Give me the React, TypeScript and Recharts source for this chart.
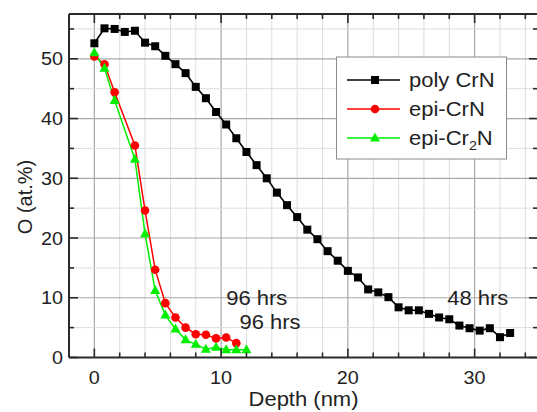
import React from 'react';
import { ComposedChart, Line, XAxis, YAxis, ReferenceDot } from 'recharts';

const polyDepth = [0, 0.8, 1.6, 2.4, 3.2, 4.0, 4.8, 5.6, 6.4, 7.2, 8.0, 8.8, 9.6, 10.4, 11.2, 12.0, 12.8, 13.6, 14.4, 15.2, 16.0, 16.8, 17.6, 18.4, 19.2, 20.0, 20.8, 21.6, 22.4, 23.2, 24.0, 24.8, 25.6, 26.4, 27.2, 28.0, 28.8, 29.6, 30.4, 31.2, 32.0, 32.8];
const polyO = [52.6, 55.1, 55.0, 54.5, 54.7, 52.7, 52.1, 50.5, 49.1, 47.6, 45.3, 43.4, 41.1, 39.0, 36.7, 34.4, 32.2, 30.0, 27.6, 25.5, 23.5, 21.4, 19.8, 17.8, 16.2, 14.5, 13.4, 11.4, 10.9, 10.1, 8.4, 7.9, 7.9, 7.3, 6.7, 6.4, 5.35, 4.9, 4.5, 4.9, 3.4, 4.1];

const epiCrNDepth = [0, 0.8, 1.6, 3.2, 4.0, 4.8, 5.6, 6.4, 7.2, 8.0, 8.8, 9.6, 10.4, 11.2];
const epiCrNO = [50.4, 49.1, 44.4, 35.5, 24.6, 14.7, 9.1, 6.7, 5.0, 3.9, 3.8, 3.2, 3.35, 2.4];

const epiCr2NDepth = [0, 0.8, 1.6, 3.2, 4.0, 4.8, 5.6, 6.4, 7.2, 8.0, 8.8, 9.6, 10.4, 11.2, 12.0];
const epiCr2NO = [51.0, 48.4, 43.0, 33.2, 20.7, 11.2, 7.1, 4.75, 2.96, 2.2, 1.4, 1.7, 1.3, 1.3, 1.3];

const xTicks = [0, 2, 4, 6, 8, 10, 12, 14, 16, 18, 20, 22, 24, 26, 28, 30, 32, 34];
const yTicks = [0, 5, 10, 15, 20, 25, 30, 35, 40, 45, 50, 55];

const annotations = [
  { x: 10.4, y: 8.8, text: '96 hrs' },
  { x: 11.45, y: 4.77, text: '96 hrs' },
  { x: 27.84, y: 8.8, text: '48 hrs' },
];

const toRows = (xs: number[], ys: number[]) => xs.map((x, i) => ({ x, o: ys[i] }));
const polyData = toRows(polyDepth, polyO);
const crnData = toRows(epiCrNDepth, epiCrNO);
const cr2nData = toRows(epiCr2NDepth, epiCr2NO);

const FONT = '"Liberation Sans", Arial, sans-serif';
const AXIS = '#2a2a2a';
const GRID_MINOR = '#dddddd';
const GRID_MAJOR = '#a8a8a8';
const SX = 1.1;

// chart geometry
const CHART_W = 545;
const CHART_H = 412;
const M = { top: 13, right: 6, bottom: 0, left: 9 };
const LEFT_W = 60;
const RIGHT_W = 1;
const TOP_H = 1;
const BOTTOM_H = 54.5;
const PLOT_W = CHART_W - M.left - M.right - LEFT_W - RIGHT_W;
const PLOT_H = CHART_H - M.top - M.bottom - TOP_H - BOTTOM_H;
const X_DOMAIN: [number, number] = [-2, 35];
const Y_DOMAIN: [number, number] = [0, 57.5];

// ---- grid layer (rendered underneath) ----
const GridX = (p: any) => {
  const v = p.payload.value;
  const major = v % 10 === 0;
  return (
    <line x1={p.x} x2={p.x} y1={p.y - 1} y2={p.y - PLOT_H + 1} stroke={major ? GRID_MAJOR : GRID_MINOR} strokeWidth={major ? 1.2 : 1} />
  );
};
const GridY = (p: any) => {
  const v = p.payload.value;
  if (v === 0) return <g />;
  const major = v % 10 === 0;
  return (
    <line x1={p.x + 1} x2={p.x + PLOT_W - 1} y1={p.y} y2={p.y} stroke={major ? GRID_MAJOR : GRID_MINOR} strokeWidth={major ? 1.2 : 1} />
  );
};

// ---- tick marks and labels ----
const BottomTick = (p: any) => {
  const v = p.payload.value;
  const major = v % 10 === 0;
  const len = major ? 9 : 5;
  const top = p.y - PLOT_H;
  return (
    <g>
      <line x1={p.x} x2={p.x} y1={p.y} y2={p.y - len} stroke={AXIS} strokeWidth={1.6} />
      <line x1={p.x} x2={p.x} y1={top} y2={top + len} stroke={AXIS} strokeWidth={1.6} />
      {major && (
        <text transform={`translate(${p.x},${p.y + 26}) scale(${SX},1)`} textAnchor="middle" fontSize={18} fontFamily={FONT} fill="#222">
          {v}
        </text>
      )}
    </g>
  );
};

const LeftTick = (p: any) => {
  const v = p.payload.value;
  const major = v % 10 === 0;
  const len = major ? 9 : 5;
  const right = p.x + PLOT_W;
  return (
    <g>
      <line x1={p.x} x2={p.x + len} y1={p.y} y2={p.y} stroke={AXIS} strokeWidth={1.6} />
      <line x1={right} x2={right - len} y1={p.y} y2={p.y} stroke={AXIS} strokeWidth={1.6} />
      {major && (
        <text transform={`translate(${p.x - 6},${p.y + 6.5}) scale(${SX},1)`} textAnchor="end" fontSize={18} fontFamily={FONT} fill="#222">
          {v}
        </text>
      )}
    </g>
  );
};

const squareDot = (p: any) => (
  <rect key={`sq-${p.index}`} x={p.cx - 4} y={p.cy - 4} width={8} height={8} fill="#000" />
);
const circleDot = (p: any) => <circle key={`ci-${p.index}`} cx={p.cx} cy={p.cy} r={4.3} fill="#ff0000" />;
const triDot = (p: any) => (
  <polygon
    key={`tr-${p.index}`}
    points={`${p.cx},${p.cy - 5.5} ${p.cx - 5},${p.cy + 3.5} ${p.cx + 5},${p.cy + 3.5}`}
    fill="#00ee00"
  />
);

const annShape = (text: string) => (p: any) => (
  <text transform={`translate(${p.cx},${p.cy}) scale(${SX},1)`} textAnchor="start" fontSize={20} fontFamily={FONT} fill="#222">
    {text}
  </text>
);

const Legend = () => (
  <g>
    <rect x={336.5} y={57} width={170} height={102} fill="#fff" stroke="#8a8a8a" strokeWidth={1} />
    <line x1={347} x2={400} y1={80} y2={80} stroke="#000" strokeWidth={1.5} />
    <rect x={371} y={76} width={8} height={8} fill="#000" />
    <text transform={`translate(409,87) scale(${SX},1)`} fontSize={20} fontFamily={FONT} fill="#222">poly CrN</text>
    <line x1={347} x2={400} y1={109} y2={109} stroke="#ff0000" strokeWidth={1.5} />
    <circle cx={375} cy={109} r={4.3} fill="#ff0000" />
    <text transform={`translate(409,116) scale(${SX},1)`} fontSize={20} fontFamily={FONT} fill="#222">epi-CrN</text>
    <line x1={347} x2={400} y1={138} y2={138} stroke="#00ee00" strokeWidth={1.5} />
    <polygon points="375,132.5 370,141.5 380,141.5" fill="#00ee00" />
    <text transform={`translate(409,145) scale(${SX},1)`} fontSize={20} fontFamily={FONT} fill="#222">
      epi-Cr<tspan fontSize={13} dy={5}>2</tspan>
      <tspan dy={-5}>N</tspan>
    </text>
  </g>
);

const layer: React.CSSProperties = { position: 'absolute', left: 0, top: 0 };

export default function App() {
  return (
    <div style={{ position: 'absolute', left: 0, top: 0, width: 537, height: 412, overflow: 'hidden', background: '#fff' }}>
      {/* grid layer */}
      <div style={layer}>
        <ComposedChart width={CHART_W} height={CHART_H} margin={M}>
          <XAxis dataKey="x" type="number" domain={X_DOMAIN} ticks={xTicks} allowDataOverflow height={BOTTOM_H} tickSize={0} tickMargin={0} tickLine={false} axisLine={false} tick={GridX} interval={0} />
          <XAxis xAxisId="top" orientation="top" type="number" domain={X_DOMAIN} allowDataOverflow height={TOP_H} tickLine={false} tick={false} axisLine={false} />
          <YAxis type="number" domain={Y_DOMAIN} ticks={yTicks} allowDataOverflow width={LEFT_W} tickSize={0} tickMargin={0} tickLine={false} axisLine={false} tick={GridY} interval={0} />
          <YAxis yAxisId="right" orientation="right" type="number" domain={Y_DOMAIN} allowDataOverflow width={RIGHT_W} tickLine={false} tick={false} axisLine={false} />
          <Line data={polyData} dataKey="o" stroke="none" dot={false} isAnimationActive={false} />
        </ComposedChart>
      </div>
      {/* data layer */}
      <div style={layer}>
        <ComposedChart width={CHART_W} height={CHART_H} margin={M}>
          <XAxis dataKey="x" type="number" domain={X_DOMAIN} ticks={xTicks} allowDataOverflow height={BOTTOM_H} tickSize={0} tickMargin={0} tickLine={false} axisLine={{ stroke: AXIS, strokeWidth: 2 }} tick={BottomTick} interval={0} />
          <XAxis xAxisId="top" orientation="top" type="number" domain={X_DOMAIN} allowDataOverflow height={TOP_H} tickLine={false} tick={false} axisLine={{ stroke: AXIS, strokeWidth: 2 }} />
          <YAxis type="number" domain={Y_DOMAIN} ticks={yTicks} allowDataOverflow width={LEFT_W} tickSize={0} tickMargin={0} tickLine={false} axisLine={{ stroke: AXIS, strokeWidth: 2 }} tick={LeftTick} interval={0} />
          <YAxis yAxisId="right" orientation="right" type="number" domain={Y_DOMAIN} allowDataOverflow width={RIGHT_W} tickLine={false} tick={false} axisLine={{ stroke: AXIS, strokeWidth: 2 }} />
          <Line data={polyData} dataKey="o" stroke="#000" strokeWidth={1.6} dot={squareDot} isAnimationActive={false} />
          <Line data={crnData} dataKey="o" stroke="#ff0000" strokeWidth={1.5} dot={circleDot} isAnimationActive={false} />
          <Line data={cr2nData} dataKey="o" stroke="#00ee00" strokeWidth={1.5} dot={triDot} isAnimationActive={false} />
          {annotations.map((a, i) => (
            <ReferenceDot key={`ann-${i}`} x={a.x} y={a.y} r={0} shape={annShape(a.text)} />
          ))}
        </ComposedChart>
      </div>
      <svg width={537} height={412} style={{ ...layer, pointerEvents: 'none' }}>
        <Legend />
        <text transform={`translate(303.5,406) scale(${SX},1)`} textAnchor="middle" fontSize={20} fontFamily={FONT} fill="#222">
          Depth (nm)
        </text>
        <text transform="translate(32,197) rotate(-90)" textAnchor="middle" fontSize={20} fontFamily={FONT} fill="#222">
          O (at.%)
        </text>
      </svg>
    </div>
  );
}
